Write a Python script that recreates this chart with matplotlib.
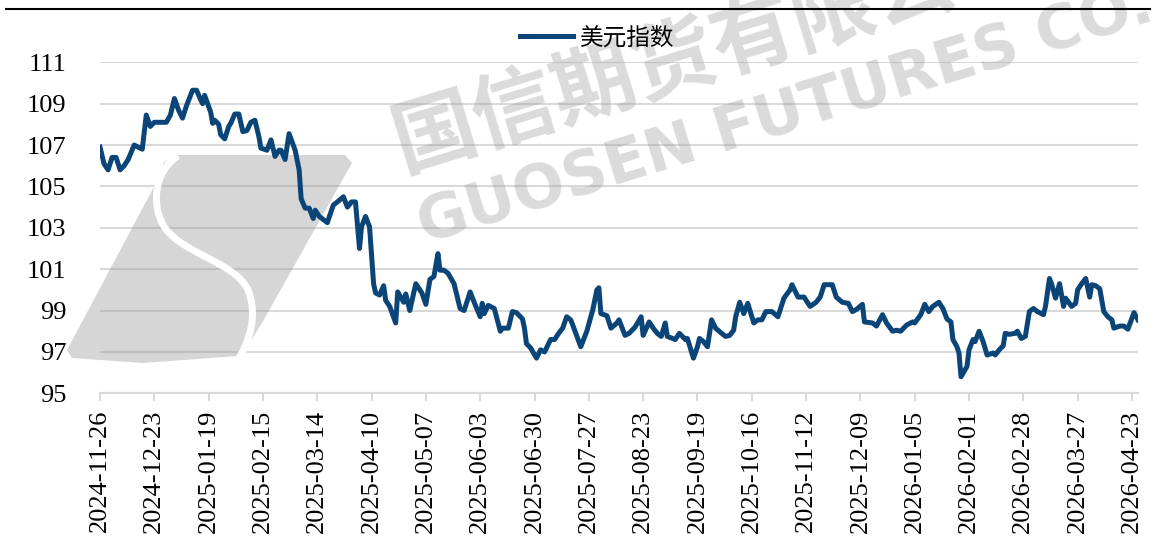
import pandas as pd
import matplotlib.pyplot as plt
from matplotlib.lines import Line2D
from matplotlib.patches import Polygon, PathPatch
from matplotlib.path import Path

# dollar index (days counted from 2024-11-26)
start = pd.Timestamp('2024-11-26')
day_offset = [0, 2, 4, 6, 8, 10, 12, 14, 17, 19,
              21, 23, 25, 27, 30, 33, 35, 37, 39, 41,
              43, 46, 48, 50, 51, 52, 55, 56, 57, 59,
              60, 62, 64, 65, 67, 69, 71, 73, 75, 77,
              79, 80, 83, 85, 87, 89, 90, 92, 94, 97,
              99, 100, 102, 104, 106, 107, 109, 113, 116, 118,
              121, 123, 125, 127, 129, 130, 132, 134, 136, 137,
              139, 141, 142, 144, 147, 148, 151, 152, 154, 157,
              159, 160, 162, 164, 166, 168, 169, 171, 173, 176,
              177, 179, 181, 184, 186, 189, 190, 191, 193, 196,
              199, 200, 203, 205, 207, 210, 211, 212, 214, 217,
              219, 221, 224, 226, 228, 230, 232, 234, 235, 239,
              242, 245, 247, 248, 249, 252, 254, 257, 258, 261,
              263, 266, 269, 270, 273, 275, 277, 279, 281, 282,
              286, 288, 291, 292, 295, 297, 298, 300, 302, 304,
              306, 309, 311, 313, 315, 316, 318, 320, 322, 325,
              327, 329, 331, 334, 337, 340, 343, 344, 347, 350,
              353, 356, 358, 360, 364, 366, 369, 372, 374, 376,
              379, 380, 384, 386, 389, 391, 394, 396, 398, 399,
              401, 404, 405, 408, 410, 412, 414, 417, 419, 421,
              423, 424, 426, 427, 428, 431, 432, 434, 435, 437,
              439, 441, 444, 445, 447, 449, 450, 452, 455, 456,
              458, 460, 462, 464, 466, 469, 470, 472, 473, 475,
              477, 479, 480, 483, 485, 486, 488, 490, 492, 493,
              495, 497, 499, 501, 503, 504, 507, 509, 511, 514,
              516]
dxy = [106.9, 106.1, 105.8, 106.4, 106.4, 105.8, 106.0, 106.3, 107.0, 106.9,
       106.8, 108.45, 107.9, 108.1, 108.1, 108.1, 108.45, 109.25, 108.7, 108.3,
       108.9, 109.65, 109.65, 109.2, 109.0, 109.4, 108.6, 108.05, 108.2, 108.0,
       107.5, 107.3, 107.9, 108.05, 108.5, 108.5, 107.65, 107.7, 108.1, 108.2,
       107.4, 106.85, 106.75, 107.25, 106.45, 106.75, 106.75, 106.3, 107.55, 106.75,
       105.8, 104.4, 103.95, 103.95, 103.45, 103.85, 103.55, 103.25, 104.1, 104.25,
       104.5, 104.0, 104.25, 104.25, 102.0, 103.05, 103.55, 103.05, 100.3, 99.85,
       99.75, 100.2, 99.5, 99.2, 98.4, 99.9, 99.4, 99.8, 99.0, 100.3,
       100.0, 99.85, 99.3, 100.5, 100.65, 101.75, 100.95, 100.95, 100.8, 100.3,
       99.9, 99.1, 99.0, 99.9, 99.4, 98.7, 99.35, 98.85, 99.25, 99.1,
       98.0, 98.15, 98.15, 98.95, 98.9, 98.6, 98.15, 97.4, 97.2, 96.7,
       97.1, 97.0, 97.6, 97.6, 97.9, 98.15, 98.7, 98.55, 98.3, 97.25,
       98.0, 99.05, 100.0, 100.1, 98.85, 98.75, 98.15, 98.4, 98.55, 97.8,
       97.9, 98.2, 98.7, 97.8, 98.45, 98.15, 97.9, 97.75, 98.4, 97.75,
       97.6, 97.9, 97.6, 97.65, 96.7, 97.25, 97.65, 97.5, 97.25, 98.55,
       98.15, 97.9, 97.75, 97.8, 98.05, 98.7, 99.4, 98.85, 99.35, 98.4,
       98.55, 98.55, 98.95, 98.95, 98.7, 99.6, 100.0, 100.25, 99.65, 99.65,
       99.2, 99.4, 99.65, 100.25, 100.25, 99.65, 99.4, 99.35, 98.95, 99.05,
       99.3, 98.45, 98.4, 98.25, 98.8, 98.4, 98.0, 98.05, 98.0, 98.1,
       98.3, 98.45, 98.4, 98.8, 99.3, 98.95, 99.2, 99.4, 99.1, 98.6,
       98.45, 97.6, 97.25, 96.95, 95.8, 96.3, 97.1, 97.6, 97.5, 98.0,
       97.5, 96.85, 96.95, 96.85, 97.1, 97.3, 97.9, 97.85, 97.9, 98.0,
       97.65, 97.75, 98.95, 99.1, 98.95, 98.8, 99.2, 100.55, 100.3, 99.6,
       100.3, 99.2, 99.6, 99.2, 99.35, 100.0, 100.3, 100.55, 99.65, 100.25,
       100.2, 100.05, 98.95, 98.7, 98.55, 98.15, 98.25, 98.25, 98.1, 98.9,
       98.55]
yticks = [95, 97, 99, 101, 103, 105, 107, 109, 111]

dates = start + pd.to_timedelta(day_offset, unit='D')
tick_dates = pd.date_range(start, periods=20, freq='27D')

W, H = 1156, 546
plt.rcParams['font.family'] = ['Liberation Serif', 'Noto Sans CJK SC']


def px(x, y):
    # pixel position (from top-left) -> figure fraction
    return (x / W, 1 - y / H)


fig = plt.figure(figsize=(W / 100, H / 100), dpi=100)
ax = fig.add_axes([100 / W, 1 - 393.3 / H, 1038 / W, 331 / H])

ax.set_axisbelow(True)
ax.yaxis.grid(True, color='#d9d9d9', lw=1.5)

# watermark: logo shape + company name
wm = '#9a9a9a'
logo = Polygon([px(*p) for p in [(178, 155), (345, 155), (352, 163), (262, 323),
                                  (250, 342), (238, 356), (143, 363), (72, 358),
                                  (67, 350), (156, 183), (164, 162)]],
               closed=True, transform=fig.transFigure, facecolor=wm, alpha=0.4,
               edgecolor='none', zorder=1, clip_on=False)
ax.add_patch(logo)
s_curve = Path([px(178, 156), px(155, 170), px(150, 205), px(165, 228),
                px(185, 255), px(235, 262), px(248, 290),
                px(258, 315), px(250, 340), px(238, 360)],
               [Path.MOVETO, Path.CURVE4, Path.CURVE4, Path.CURVE4,
                Path.CURVE4, Path.CURVE4, Path.CURVE4,
                Path.CURVE4, Path.CURVE4, Path.CURVE4])
ax.add_patch(PathPatch(s_curve, transform=fig.transFigure, facecolor='none',
                       edgecolor='white', lw=5, zorder=1.1, clip_on=False))

ax.text(*px(395, 146), '国信期货有限公司', transform=fig.transFigure,
        family='Noto Sans CJK SC', fontweight='bold', fontsize=60,
        color=wm, alpha=0.36, rotation=17, rotation_mode='anchor',
        ha='left', va='center', zorder=1)
ax.text(*px(420, 228), 'GUOSEN FUTURES CO.,LTD', transform=fig.transFigure,
        family='DejaVu Sans', fontweight='bold', fontsize=44,
        color=wm, alpha=0.36, rotation=17, rotation_mode='anchor',
        ha='left', va='center', zorder=1)

line, = ax.plot(dates, dxy, color='#0b4577', lw=3.6, zorder=3,
                solid_joinstyle='round')

ax.set_ylim(95, 111)
ax.set_yticks(yticks)
ax.set_xlim(dates[0], dates[-1])
ax.set_xticks(tick_dates)
ax.set_xticklabels([d.strftime('%Y-%m-%d') for d in tick_dates], rotation=90)

for s in ['top', 'right', 'left']:
    ax.spines[s].set_visible(False)
ax.spines['bottom'].set_color('#d9d9d9')
ax.spines['bottom'].set_linewidth(1.5)
ax.tick_params(axis='x', length=6, width=1.5, color='#d9d9d9', labelsize=19, pad=6)
ax.tick_params(axis='y', length=0, labelsize=19, pad=24)

fig.legend(handles=[line], labels=['美元指数'], loc='center',
           bbox_to_anchor=px(597, 38), frameon=False,
           prop={'family': 'Noto Sans CJK SC', 'size': 17},
           handlelength=2.25, handletextpad=0.3)

fig.add_artist(Line2D([6 / W, 1150 / W], [1 - 9 / H, 1 - 9 / H], color='black',
                      lw=1.5, transform=fig.transFigure))

fig.savefig('out.png', dpi=100)
